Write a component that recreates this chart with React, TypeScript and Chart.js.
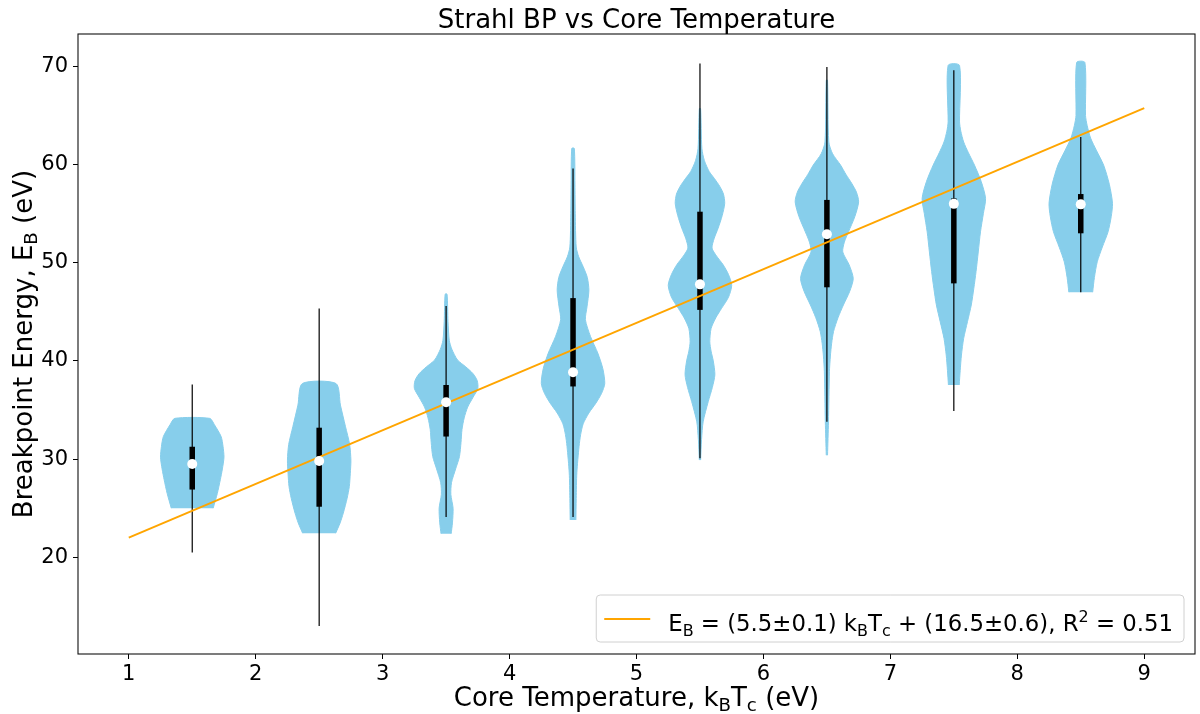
import { useEffect, useRef } from "react";
import { Chart, registerables } from "chart.js";

Chart.register(...registerables);

// violin centres on the temperature axis
const positions = [1.5, 2.5, 3.5, 4.5, 5.5, 6.5, 7.5, 8.5];

// violin outlines: energy level (eV) and half width relative to the widest point
const levels1 = [25.0, 26.5, 27.9, 29.0, 30.2, 31.3, 32.3, 33.5, 34.15];
const widths1 = [0.66, 0.79, 0.885, 0.95, 1.0, 0.97, 0.91, 0.7, 0.55];
const levels2 = [22.45, 23.5, 24.5, 26.0, 27.2, 28.5, 29.9, 31.5, 33.3, 35.5, 37.7];
const widths2 = [0.52, 0.66, 0.76, 0.88, 0.95, 0.98, 1.0, 0.96, 0.83, 0.67, 0.53];
const levels3 = [22.4, 23.5, 25.0, 26.4, 27.6, 29.0, 30.25, 31.7, 33.0, 34.2, 35.3, 36.3, 37.2, 38.0, 38.7, 39.4, 40.1, 41.2, 42.1, 44.0, 46.8];
const widths3 = [0.16, 0.2, 0.22, 0.15, 0.17, 0.3, 0.42, 0.47, 0.5, 0.57, 0.68, 0.85, 1.0, 0.98, 0.85, 0.62, 0.36, 0.18, 0.1, 0.06, 0.03];
const levels4 = [23.8, 26.0, 28.6, 31.3, 32.5, 33.6, 34.7, 35.7, 36.7, 37.7, 39.2, 40.8, 42.5, 44.2, 45.5, 47.2, 48.5, 49.6, 50.6, 51.6, 55.0, 58.0, 61.65];
const widths4 = [0.09, 0.1, 0.12, 0.19, 0.24, 0.32, 0.5, 0.72, 0.9, 1.0, 0.94, 0.78, 0.55, 0.39, 0.44, 0.5, 0.45, 0.32, 0.18, 0.1, 0.07, 0.06, 0.04];
const levels5 = [29.9, 32.0, 33.8, 35.85, 37.3, 38.6, 40.0, 41.0, 41.95, 43.3, 44.4, 45.35, 46.5, 47.7, 48.8, 49.8, 50.7, 51.5, 52.5, 53.5, 54.8, 56.05, 57.0, 57.8, 58.6, 59.3, 60.4, 61.65, 65.7];
const widths5 = [0.02, 0.05, 0.1, 0.26, 0.39, 0.47, 0.42, 0.35, 0.31, 0.35, 0.5, 0.68, 0.9, 1.0, 0.9, 0.73, 0.52, 0.38, 0.45, 0.57, 0.7, 0.78, 0.74, 0.62, 0.45, 0.29, 0.14, 0.06, 0.02];
const levels6 = [30.4, 33.8, 38.9, 40.5, 41.8, 43.0, 44.4, 45.7, 47.1, 48.4, 49.8, 51.1, 52.1, 53.15, 54.7, 56.2, 57.2, 58.1, 59.0, 59.95, 61.1, 62.3, 68.6];
const widths6 = [0.02, 0.05, 0.08, 0.11, 0.15, 0.21, 0.35, 0.52, 0.72, 0.83, 0.7, 0.5, 0.55, 0.68, 0.88, 1.0, 0.93, 0.78, 0.6, 0.43, 0.18, 0.06, 0.02];
const levels7 = [37.55, 39.0, 40.6, 42.3, 44.0, 45.7, 47.4, 49.1, 51.1, 53.15, 55.0, 56.55, 58.3, 59.95, 61.2, 62.3, 63.4, 64.35, 70.1];
const widths7 = [0.17, 0.2, 0.24, 0.31, 0.43, 0.55, 0.63, 0.7, 0.77, 0.84, 0.93, 1.0, 0.86, 0.65, 0.46, 0.31, 0.22, 0.18, 0.18];
const levels8 = [47.0, 48.5, 50.1, 51.6, 53.15, 54.7, 56.05, 58.0, 59.95, 61.4, 62.7, 64.0, 65.0, 70.4];
const widths8 = [0.375, 0.43, 0.52, 0.68, 0.86, 0.96, 1.0, 0.9, 0.72, 0.5, 0.31, 0.2, 0.15, 0.13];

const violinLevels = [levels1, levels2, levels3, levels4, levels5, levels6, levels7, levels8];
const violinWidths = [widths1, widths2, widths3, widths4, widths5, widths6, widths7, widths8];

// whisker ends, box (quartiles) and medians
const mins = [20.5, 13.0, 24.1, 24.1, 30.1, 33.8, 34.9, 47.0];
const q1s = [26.9, 25.15, 32.3, 37.4, 45.2, 47.5, 47.9, 53.0];
const medians = [29.5, 29.8, 35.8, 38.85, 47.8, 52.9, 56.0, 55.95];
const q3s = [31.26, 33.2, 37.55, 46.4, 55.2, 56.4, 56.55, 57.0];
const maxs = [37.6, 45.35, 45.6, 59.6, 70.3, 69.95, 69.6, 62.8];

// linear fit end points
const fitX = [1, 9];
const fitY = [22.0, 65.75];

const xTicks = [1, 2, 3, 4, 5, 6, 7, 8, 9];
const yTicks = [20, 30, 40, 50, 60, 70];

type Seg = [string, "" | "sub" | "sup"];

const titleText: Seg[] = [["Strahl BP vs Core Temperature", ""]];
const xLabel: Seg[] = [["Core Temperature, k", ""], ["B", "sub"], ["T", ""], ["c", "sub"], [" (eV)", ""]];
const yLabel: Seg[] = [["Breakpoint Energy, E", ""], ["B", "sub"], [" (eV)", ""]];
const legendText: Seg[] = [
  ["E", ""], ["B", "sub"], [" = (5.5±0.1) k", ""], ["B", "sub"], ["T", ""], ["c", "sub"],
  [" + (16.5±0.6), R", ""], ["2", "sup"], [" = 0.51", ""],
];

const FONT = '"DejaVu Sans", sans-serif';
const HALF_WIDTH = 0.25;
const VIOLIN = "#87ceeb";
const FIT = "#ffa500";

function richWidth(ctx: CanvasRenderingContext2D, segs: Seg[], size: number) {
  let w = 0;
  for (const [t, m] of segs) {
    ctx.font = `${m ? size * 0.7 : size}px ${FONT}`;
    w += ctx.measureText(t).width;
  }
  return w;
}

function drawRich(ctx: CanvasRenderingContext2D, segs: Seg[], x: number, y: number, size: number, center: boolean) {
  let cx = center ? x - richWidth(ctx, segs, size) / 2 : x;
  ctx.textAlign = "left";
  ctx.textBaseline = "alphabetic";
  for (const [t, m] of segs) {
    ctx.font = `${m ? size * 0.7 : size}px ${FONT}`;
    const dy = m === "sub" ? size * 0.2 : m === "sup" ? -size * 0.38 : 0;
    ctx.fillText(t, cx, y + dy);
    cx += ctx.measureText(t).width;
  }
}

const textPlugin = {
  id: "texts",
  afterDraw(chart: Chart) {
    const { ctx, chartArea: a } = chart;
    const midX = (a.left + a.right) / 2;
    ctx.save();
    ctx.fillStyle = "#000";

    ctx.strokeStyle = "#111";
    ctx.lineWidth = 1.1;
    ctx.strokeRect(a.left, a.top, a.right - a.left, a.bottom - a.top);

    drawRich(ctx, titleText, midX, a.top - 6, 26, true);
    drawRich(ctx, xLabel, midX, a.bottom + 52, 26, true);

    ctx.save();
    ctx.translate(a.left - 46, (a.top + a.bottom) / 2);
    ctx.rotate(-Math.PI / 2);
    drawRich(ctx, yLabel, 0, 0, 26, true);
    ctx.restore();

    // legend
    const size = 22.8;
    const tw = richWidth(ctx, legendText, size);
    const w = 8 + 46 + 18 + tw + 11;
    const h = 47;
    const right = a.right - 11;
    const bottom = a.bottom - 12;
    const left = right - w;
    const top = bottom - h;
    ctx.beginPath();
    ctx.roundRect(left, top, w, h, 4);
    ctx.fillStyle = "rgba(255,255,255,0.8)";
    ctx.fill();
    ctx.strokeStyle = "#d0d0d0";
    ctx.lineWidth = 1;
    ctx.stroke();
    ctx.strokeStyle = FIT;
    ctx.lineWidth = 2;
    ctx.beginPath();
    ctx.moveTo(left + 8, top + 24);
    ctx.lineTo(left + 54, top + 24);
    ctx.stroke();
    ctx.fillStyle = "#000";
    drawRich(ctx, legendText, left + 72, top + 36, size, false);
    ctx.restore();
  },
};

function outline(pos: number, levels: number[], widths: number[]) {
  const right = levels.map((y, i) => ({ x: pos + widths[i] * HALF_WIDTH, y }));
  const left = levels.map((y, i) => ({ x: pos - widths[i] * HALF_WIDTH, y })).reverse();
  return [...right, ...left];
}

export default function App() {
  const ref = useRef<HTMLCanvasElement>(null);

  useEffect(() => {
    if (!ref.current) return;
    Chart.defaults.font.family = FONT;

    const violins = positions.map((p, i) => ({
      type: "scatter" as const,
      data: outline(p, violinLevels[i], violinWidths[i]),
      indexAxis: "y" as const,
      showLine: true,
      fill: "shape",
      backgroundColor: VIOLIN,
      borderColor: VIOLIN,
      borderWidth: 1,
      pointRadius: 0,
      tension: 0.25,
      order: 5,
    }));

    const chart = new Chart(ref.current, {
      type: "scatter",
      data: {
        datasets: [
          ...violins,
          {
            type: "bar",
            data: positions.map((p, i) => ({ x: p, y: [mins[i], maxs[i]] })),
            backgroundColor: "#000",
            barThickness: 1.2,
            inflateAmount: 0,
            grouped: false,
            borderWidth: 0,
            order: 4,
          },
          {
            type: "bar",
            data: positions.map((p, i) => ({ x: p, y: [q1s[i], q3s[i]] })),
            backgroundColor: "#000",
            barThickness: 5.5,
            inflateAmount: 0,
            grouped: false,
            borderWidth: 0,
            order: 3,
          },
          {
            type: "scatter",
            data: fitX.map((x, i) => ({ x, y: fitY[i] })),
            showLine: true,
            borderColor: FIT,
            borderWidth: 2,
            pointRadius: 0,
            order: 2,
          },
          {
            type: "scatter",
            data: positions.map((p, i) => ({ x: p, y: medians[i] })),
            pointRadius: 5,
            backgroundColor: "#fff",
            borderWidth: 0,
            order: 1,
          },
        ] as any,
      },
      options: {
        animation: false,
        responsive: true,
        maintainAspectRatio: false,
        events: [],
        layout: { padding: { top: 34, right: 3, left: 0, bottom: 0 } },
        plugins: { legend: { display: false }, tooltip: { enabled: false } },
        scales: {
          x: {
            type: "linear",
            min: 0.6,
            max: 9.4,
            offset: false,
            afterBuildTicks: (s: any) => {
              s.ticks = xTicks.map((v) => ({ value: v }));
            },
            afterFit: (s: any) => {
              s.height = 60;
            },
            grid: { drawOnChartArea: false, drawTicks: true, tickLength: 5, color: "#000", offset: false },
            border: { display: false },
            ticks: { color: "#000", font: { size: 21 }, padding: 3, maxRotation: 0, autoSkip: false },
          },
          y: {
            type: "linear",
            min: 10.15,
            max: 73.3,
            beginAtZero: false,
            afterBuildTicks: (s: any) => {
              s.ticks = yTicks.map((v) => ({ value: v }));
            },
            afterFit: (s: any) => {
              s.width = 78;
            },
            grid: { drawOnChartArea: false, drawTicks: true, tickLength: 5, color: "#000" },
            border: { display: false },
            ticks: { color: "#000", font: { size: 21 }, padding: 5, autoSkip: false },
          },
        },
      },
      plugins: [textPlugin],
    });
    return () => {
      chart.destroy();
    };
  }, []);

  return (
    <div style={{ position: "fixed", left: 0, top: 0, width: 1200, height: 714, background: "#fff" }}>
      <canvas ref={ref} />
    </div>
  );
}
